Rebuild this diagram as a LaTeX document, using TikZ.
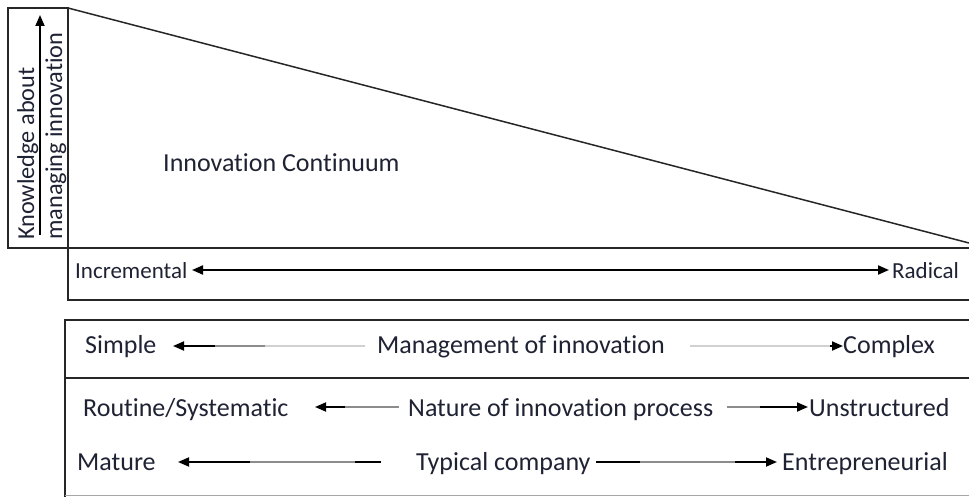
\documentclass[tikz,border=0pt]{standalone}
\usepackage{fontspec}
\setmainfont{Carlito}[Ligatures={NoCommon,NoContextual}]
\usetikzlibrary{arrows.meta}
\definecolor{txt}{HTML}{1E2233}
\begin{document}
\begin{tikzpicture}[x=1pt,y=-1pt,
  frame/.style={line width=1.3pt, draw=black!85},
  lbl/.style={inner sep=0pt, anchor=base west, text=txt, font=\fontsize{26}{30}\selectfont},
  sml/.style={inner sep=0pt, anchor=base west, text=txt, font=\fontsize{23}{27}\selectfont},
  vlbl/.style={inner sep=0pt, anchor=base west, rotate=90, text=txt, font=\fontsize{24.3}{28}\selectfont},
  tip/.style={-{Triangle[length=11pt,width=9pt]}},
  arr/.style={line width=1.8pt, draw=black},
  mid/.style={line width=1.7pt, draw=black!45},
  light/.style={line width=1.5pt, draw=black!18}
]
\useasboundingbox (0,0) rectangle (969,497);
% top frames
\coordinate (tl) at (8,8);
\coordinate (tr) at (68,8);
\coordinate (bl) at (8,248);
\coordinate (br) at (68,248);
\coordinate (rend) at (969,243);
\coordinate (hend) at (969,248);
\coordinate (ibl) at (68,300);
\coordinate (ibr) at (969,300);
\draw[frame] (tl) rectangle (br);
\draw[frame, line width=1.5pt] (tr) -- (rend);
\draw[frame] (br) -- (hend);
\draw[frame] (br) -- (ibl) -- (ibr);
% vertical axis
\node[vlbl] (know) at (34,240) {Knowledge about};
\node[vlbl] (manag) at (62,240) {managing innovation};
\coordinate (va) at (40,235);
\coordinate (vb) at (40,15);
\draw[arr, tip] (va) -- (vb);
\node[lbl] (cont) at (163,172) {Innovation Continuum};
% incremental / radical
\node[sml] (incr) at (75,278) {Incremental};
\node[sml] (rad) at (892,278) {Radical};
\coordinate (ia) at (192,270);
\coordinate (ib) at (889,270);
\draw[line width=2pt, {Triangle[length=11pt,width=9pt]}-{Triangle[length=11pt,width=9pt]}] (ia) -- (ib);
% bottom box
\coordinate (b1) at (65,320);
\coordinate (b2) at (969,320);
\coordinate (b3) at (65,378);
\coordinate (b4) at (969,378);
\coordinate (b5) at (65,497);
\coordinate (b6) at (65,495);
\coordinate (b7) at (969,495);
\draw[frame] (b2) -- (b1) -- (b5);
\draw[frame] (b3) -- (b4);
\draw[line width=1pt, draw=black!35] (b6) -- (b7);
% row 1
\node[lbl] (simple) at (85,353) {Simple};
\node[lbl] (mgmt) at (377,353) {Management of innovation};
\node[lbl] (complex) at (843,353) {Complex};
\coordinate (r1a) at (173,346);
\coordinate (r1b) at (215,346);
\coordinate (r1c) at (265,346);
\coordinate (r1d) at (365,346);
\draw[light] (r1d) -- (r1c);
\draw[mid] (r1c) -- (r1b);
\draw[arr, tip] (r1b) -- (r1a);
\coordinate (r1e) at (690,346);
\coordinate (r1f) at (830,346);
\coordinate (r1g) at (843,346);
\draw[light] (r1e) -- (r1f);
\draw[arr, tip] (r1f) -- (r1g);
% row 2
\node[lbl] (routine) at (83,416) {Routine/Systematic};
\node[lbl] (nature) at (408,416) {Nature of innovation process};
\node[lbl] (unstr) at (809,416) {Unstructured};
\coordinate (r2a) at (315,407);
\coordinate (r2b) at (345,407);
\coordinate (r2c) at (399,407);
\draw[mid] (r2c) -- (r2b);
\draw[arr, tip] (r2b) -- (r2a);
\coordinate (r2d) at (727,407);
\coordinate (r2e) at (760,407);
\coordinate (r2f) at (808,407);
\draw[mid] (r2d) -- (r2e);
\draw[arr, tip] (r2e) -- (r2f);
% row 3
\node[lbl] (mature) at (77,470) {Mature};
\node[lbl] (typical) at (416,470) {Typical company};
\node[lbl] (entre) at (782,470) {Entrepreneurial};
\coordinate (r3a) at (178,462);
\coordinate (r3b) at (250,462);
\coordinate (r3c) at (355,462);
\coordinate (r3d) at (381,462);
\draw[arr] (r3d) -- (r3c);
\draw[mid] (r3c) -- (r3b);
\draw[arr, tip] (r3b) -- (r3a);
\coordinate (r3e) at (596,462);
\coordinate (r3f) at (640,462);
\coordinate (r3g) at (735,462);
\coordinate (r3h) at (777,462);
\draw[arr] (r3e) -- (r3f);
\draw[mid] (r3f) -- (r3g);
\draw[arr, tip] (r3g) -- (r3h);
\end{tikzpicture}
\end{document}
